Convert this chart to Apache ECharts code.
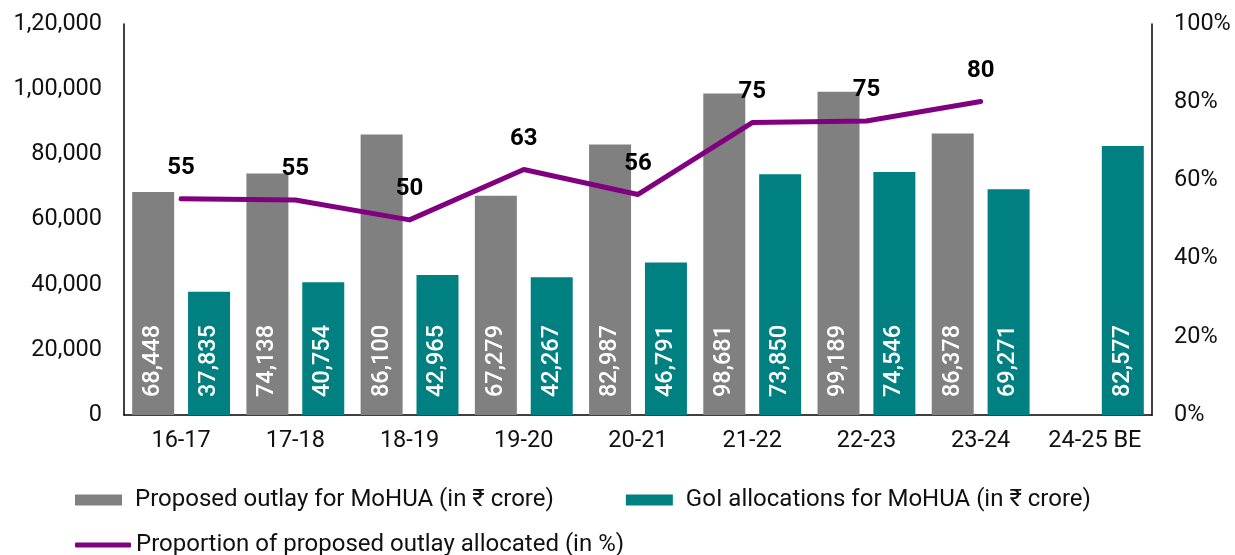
<!DOCTYPE html>
<html>
<head>
<meta charset="utf-8">
<script src="https://cdn.jsdelivr.net/npm/echarts@6/dist/echarts.min.js"></script>
<style>
  html, body { margin: 0; padding: 0; background: #fff; }
  #chart { width: 1235px; height: 555px; }
</style>
</head>
<body>
<div id="chart"></div>
<script>
const years = ["16-17", "17-18", "18-19", "19-20", "20-21", "21-22", "22-23", "23-24", "24-25 BE"];
const proposed = [68448, 74138, 86100, 67279, 82987, 98681, 99189, 86378, null];
const allocated = [37835, 40754, 42965, 42267, 46791, 73850, 74546, 69271, 82577];
const proportion = [55.3, 55.0, 49.9, 62.8, 56.4, 74.8, 75.2, 80.2, null];

const font = "Roboto";

// 1,20,000 style grouping
function indian(v) {
  const s = String(Math.round(v));
  if (s.length <= 3) return s;
  const last3 = s.slice(-3);
  let rest = s.slice(0, -3);
  rest = rest.replace(/\B(?=(\d{2})+(?!\d))/g, ",");
  return rest + "," + last3;
}

const chart = echarts.init(document.getElementById("chart"));
chart.setOption({
  animation: false,
  textStyle: { fontFamily: font },
  grid: { left: 124, right: 83, top: 24, bottom: 140 },
  legend: [
    {
      data: ["Proposed outlay for MoHUA (in ₹ crore)", "GoI allocations for MoHUA (in ₹ crore)"],
      left: 70, top: 483,
      icon: "rect", itemWidth: 47, itemHeight: 11, itemGap: 72,
      textStyle: { fontSize: 24, color: "#111", padding: [0, 0, 0, 8] }
    },
    {
      data: ["Proportion of proposed outlay allocated (in %)"],
      left: 70, top: 528,
      icon: "roundRect", itemWidth: 56, itemHeight: 5,
      textStyle: { fontSize: 24, color: "#111", padding: [0, 0, 0, 0] }
    }
  ],
  xAxis: {
    type: "category",
    data: years,
    axisLine: { lineStyle: { color: "#000", width: 1.5 } },
    axisTick: { show: false },
    axisLabel: { fontSize: 23.5, color: "#111", margin: 14, interval: 0 }
  },
  yAxis: [
    {
      type: "value", min: 0, max: 120000, interval: 20000,
      splitLine: { show: false },
      axisLine: { show: true, lineStyle: { color: "#000", width: 1.5 } },
      axisTick: { show: false },
      axisLabel: { fontSize: 23.5, color: "#111", margin: 22, formatter: indian }
    },
    {
      type: "value", min: 0, max: 100, interval: 20,
      splitLine: { show: false },
      axisLine: { show: true, lineStyle: { color: "#000", width: 1.5 } },
      axisTick: { show: false },
      axisLabel: { fontSize: 23.5, color: "#111", margin: 22, formatter: "{value}%" }
    }
  ],
  series: [
    {
      name: "Proposed outlay for MoHUA (in ₹ crore)",
      type: "bar",
      data: proposed,
      barWidth: 42,
      barGap: "33%",
      itemStyle: { color: "#808080" },
      label: {
        show: true, position: "insideBottom", rotate: 90, distance: 18,
        align: "left", verticalAlign: "middle",
        color: "#fff", fontSize: 23.5, fontWeight: 500,
        formatter: p => indian(p.value)
      }
    },
    {
      name: "GoI allocations for MoHUA (in ₹ crore)",
      type: "bar",
      data: allocated,
      barWidth: 42,
      itemStyle: { color: "#008080" },
      label: {
        show: true, position: "insideBottom", rotate: 90, distance: 18,
        align: "left", verticalAlign: "middle",
        color: "#fff", fontSize: 23.5, fontWeight: 500,
        formatter: p => indian(p.value)
      }
    },
    {
      name: "Proportion of proposed outlay allocated (in %)",
      type: "line",
      yAxisIndex: 1,
      data: proportion,
      symbol: "circle",
      symbolSize: 1,
      showSymbol: true,
      lineStyle: { color: "#800080", width: 5, cap: "round", join: "round" },
      itemStyle: { color: "#800080" },
      label: {
        show: true, position: "top", distance: 18,
        color: "#000", fontSize: 24, fontWeight: "bold",
        formatter: p => Math.round(p.value)
      }
    }
  ]
});
</script>
</body>
</html>
